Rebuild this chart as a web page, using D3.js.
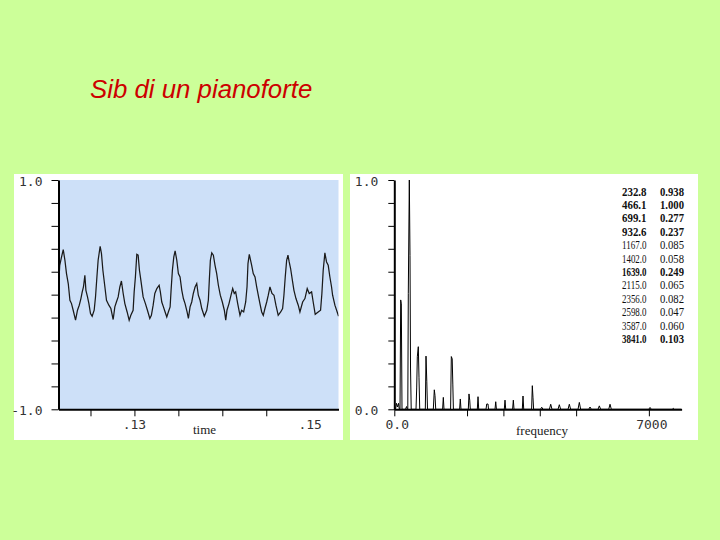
<!DOCTYPE html>
<html><head><meta charset="utf-8">
<script src="https://cdn.jsdelivr.net/npm/d3@7"></script>
<style>body{margin:0;background:#ccff99;}svg{display:block;}</style>
</head><body>
<svg id="chart" width="720" height="540"></svg>
<script>
// ---------- data ----------
const titleText = "Sib di un pianoforte";

// waveform: time (s) and amplitude
const waveTime = [0.12139,0.1215,0.12167,0.1219,0.12209,0.12227,0.12247,0.12266,0.12284,0.12303,0.1233,0.12352,0.12372,0.12391,0.12406,0.1242,0.12436,0.12448,0.12466,0.12482,0.125,0.12519,0.12542,0.12557,0.12573,0.12587,0.1261,0.12625,0.12641,0.12664,0.12682,0.12709,0.12732,0.12758,0.12777,0.12795,0.12815,0.12834,0.12852,0.12872,0.12891,0.12917,0.1294,0.12959,0.12985,0.12997,0.13011,0.13027,0.13042,0.13057,0.13073,0.13099,0.13125,0.13148,0.13175,0.13193,0.13213,0.13232,0.13255,0.13281,0.13295,0.13311,0.1333,0.13349,0.13368,0.13386,0.13406,0.13417,0.13432,0.13448,0.13463,0.13482,0.135,0.13519,0.13539,0.13557,0.13576,0.13599,0.13614,0.13633,0.13652,0.1367,0.1369,0.13709,0.13727,0.13747,0.13766,0.13795,0.13823,0.13841,0.13852,0.13864,0.1388,0.13898,0.13917,0.13936,0.13955,0.13977,0.14,0.14023,0.14039,0.14053,0.14076,0.14099,0.14118,0.14136,0.14152,0.14175,0.14201,0.1422,0.14243,0.14266,0.14281,0.14292,0.14307,0.14334,0.14352,0.14372,0.14391,0.14409,0.14428,0.14448,0.14466,0.14485,0.14505,0.14523,0.14542,0.14565,0.14588,0.1461,0.14636,0.14664,0.14686,0.14701,0.14716,0.14732,0.14747,0.14761,0.14777,0.148,0.14815,0.14838,0.14864,0.14883,0.14914,0.1494,0.14966,0.14989,0.15016,0.15034,0.15057,0.15091,0.15118,0.15133,0.15148,0.15167,0.15186,0.15205,0.15224,0.15243,0.15255,0.15281,0.15307,0.15323];
const waveAmp = [0.099,0.256,0.317,0.393,0.300,0.184,0.097,-0.049,-0.078,-0.136,-0.223,-0.136,-0.092,-0.034,0.024,0.067,0.169,0.038,-0.020,-0.078,-0.165,-0.188,-0.136,-0.020,0.154,0.300,0.422,0.358,0.213,0.067,-0.049,-0.092,-0.121,-0.217,-0.107,-0.064,-0.020,0.067,0.119,0.010,-0.078,-0.151,-0.223,-0.180,-0.136,0.024,0.154,0.352,0.344,0.213,0.126,-0.020,-0.078,-0.136,-0.208,-0.180,-0.092,0.010,0.053,0.082,0.024,-0.064,-0.107,-0.151,-0.195,-0.151,-0.107,0.038,0.213,0.329,0.381,0.300,0.184,0.154,0.038,-0.034,-0.078,-0.151,-0.208,-0.107,-0.064,0.010,0.067,0.097,-0.005,-0.049,-0.121,-0.188,-0.136,-0.049,0.126,0.300,0.364,0.344,0.256,0.184,0.082,-0.005,-0.064,-0.136,-0.223,-0.136,-0.078,-0.005,0.053,0.010,0.024,-0.078,-0.180,-0.136,-0.151,-0.064,0.067,0.271,0.352,0.256,0.184,0.154,0.067,-0.005,-0.078,-0.151,-0.180,-0.121,-0.064,-0.005,0.067,0.010,-0.005,-0.092,-0.180,-0.151,-0.121,-0.005,0.154,0.300,0.344,0.285,0.228,0.111,0.038,-0.034,-0.092,-0.151,-0.064,-0.034,0.053,0.010,0.024,-0.064,-0.171,-0.151,-0.136,0.010,0.213,0.364,0.285,0.256,0.154,0.067,-0.005,-0.092,-0.151,-0.188];

// spectrum: frequency (Hz) and relative magnitude
const specFreq = [0,33,60,88,116,138,157,176,193,212,308,336,358,371,385,413,432,446,465,597,616,633,660,679,699,853,872,894,913,1073,1100,1119,1139,1328,1348,1367,1548,1568,1592,1609,1625,1796,1815,1834,2035,2054,2074,2090,2283,2302,2321,2522,2541,2577,2591,2769,2789,2808,3025,3044,3064,3253,3273,3292,3520,3539,3559,3776,3795,3814,3831,4020,4054,4088,4265,4301,4337,4502,4538,4574,4777,4813,4849,5052,5088,5124,5346,5382,5418,5602,5638,5674,5896,5932,5968,6996,7032,7068,7640,7673,7706,7884];
const specMag  = [0,0,0.026,0.01,0.026,0,0,0.477,0.46,0,0,0.012,0,0,0.506,1.0,0.67,0.18,0,0,0.093,0.229,0.273,0.14,0,0,0.232,0.12,0,0,0.085,0.06,0,0,0.052,0,0,0.23,0.22,0.11,0,0,0.045,0,0,0.067,0.04,0,0,0.055,0,0,0.023,0.023,0,0,0.033,0,0,0.04,0,0,0.04,0,0,0.058,0,0,0.103,0.05,0,0,0.009,0,0,0.022,0,0,0.02,0,0,0.022,0,0,0.03,0,0,0.01,0,0,0.015,0,0,0.022,0,0,0.008,0,0,0.004,0,0];

// peak table
const peakFreqLabels = ["232.8","466.1","699.1","932.6","1167.0","1402.0","1639.0","2115.0","2356.0","2598.0","3587.0","3841.0"];
const peakAmpLabels  = ["0.938","1.000","0.277","0.237","0.085","0.058","0.249","0.065","0.082","0.047","0.060","0.103"];
const peakBold       = [true,true,true,true,false,false,true,false,false,false,false,true];

// axes
const waveDomain = [0.12136, 0.15322];
const waveYTicks = [-1,-0.8,-0.6,-0.4,-0.2,0,0.2,0.4,0.6,0.8,1];
const waveYLabels = {"1": "1.0", "-1": "-1.0"};
const waveXTicks = [0.125,0.13,0.135,0.14,0.145];
const waveXLabelValues = [0.13, 0.15];
const waveXLabelText = [".13", ".15"];
const specDomain = [0, 7900];
const specYTicks = [0,0.1,0.2,0.3,0.4,0.5,0.6,0.7,0.8,0.9,1];
const specYLabels = {"1": "1.0", "0": "0.0"};
const specXTicks = [0,2000,3000,4000,5000,7000];
const specXLabelValues = [0, 7000];
const specXLabelText = ["0.0", "7000"];

// ---------- drawing ----------
const svg = d3.select("#chart");
svg.append("rect").attr("width",720).attr("height",540).attr("fill","#ccff99");

svg.append("text").attr("x",90).attr("y",98)
  .attr("font-family","'Liberation Sans', Arial, sans-serif").attr("font-style","italic")
  .attr("font-size",25.8).attr("fill","#cc0000").text(titleText);

const monoFont = "'DejaVu Sans Mono', monospace";
const serifFont = "'Liberation Serif', 'Times New Roman', serif";

function styleAxis(g){
  g.select(".domain").attr("stroke","#000").attr("stroke-width",2);
  g.selectAll(".tick line").attr("stroke","#000").attr("stroke-width",1);
  g.selectAll(".tick text").remove();
}

// left panel
const L = {bx:14, by:174, bw:329, bh:266, x0:58.5, x1:338.5, y0:180, y1:409.3};
svg.append("rect").attr("x",L.bx).attr("y",L.by).attr("width",L.bw).attr("height",L.bh).attr("fill","#ffffff");
svg.append("rect").attr("x",L.x0).attr("y",L.y0).attr("width",L.x1-L.x0).attr("height",L.y1-L.y0).attr("fill","#cde0f8");
const xw = d3.scaleLinear().domain(waveDomain).range([L.x0,L.x1]);
const yw = d3.scaleLinear().domain([-1,1]).range([L.y1,L.y0]);
svg.append("defs").append("clipPath").attr("id","clipL").append("rect")
  .attr("x",L.x0).attr("y",L.y0).attr("width",L.x1-L.x0).attr("height",L.y1-L.y0);
const waveData = waveTime.map((t,i)=>[t,waveAmp[i]]);
svg.append("path").datum(waveData).attr("clip-path","url(#clipL)")
  .attr("fill","none").attr("stroke","#1a1a1a").attr("stroke-width",1.25)
  .attr("d", d3.line().x(d=>xw(d[0])).y(d=>yw(d[1])));
svg.append("g").attr("transform",`translate(${L.x0},0)`)
  .call(d3.axisLeft(yw).tickValues(waveYTicks).tickSize(7).tickSizeOuter(0)).call(styleAxis);
svg.append("g").attr("transform",`translate(0,${L.y1})`)
  .call(d3.axisBottom(xw).tickValues(waveXTicks).tickSize(7).tickSizeOuter(0)).call(styleAxis);
waveYTicks.filter(v=>waveYLabels[String(v)]).forEach(v=>{
  svg.append("text").attr("x",L.x0-16).attr("y",yw(v)+6).attr("text-anchor","end")
    .attr("font-family",monoFont).attr("font-size",13).attr("fill","#333").text(waveYLabels[String(v)]);
});
waveXLabelValues.forEach((v,i)=>{
  svg.append("text").attr("x",xw(v)).attr("y",429).attr("text-anchor","middle")
    .attr("font-family",monoFont).attr("font-size",13).attr("fill","#333").text(waveXLabelText[i]);
});
svg.append("text").attr("x",204.5).attr("y",434).attr("text-anchor","middle")
  .attr("font-family",serifFont).attr("font-size",13).attr("fill","#222").text("time");

// right panel
const R = {bx:350, by:174, bw:348, bh:266, x0:394.3, x1:681.6, y0:180, y1:409.3};
svg.append("rect").attr("x",R.bx).attr("y",R.by).attr("width",R.bw).attr("height",R.bh).attr("fill","#ffffff");
const xs = d3.scaleLinear().domain(specDomain).range([R.x0,R.x1]);
const ys = d3.scaleLinear().domain([0,1]).range([R.y1,R.y0]);
const specData = specFreq.map((f,i)=>[f,specMag[i]]);
svg.append("path").datum(specData)
  .attr("fill","none").attr("stroke","#000").attr("stroke-width",1)
  .attr("d", d3.line().x(d=>xs(d[0])).y(d=>ys(d[1])));
svg.append("g").attr("transform",`translate(${R.x0},0)`)
  .call(d3.axisLeft(ys).tickValues(specYTicks).tickSize(6).tickSizeOuter(0)).call(styleAxis);
svg.append("g").attr("transform",`translate(0,${R.y1})`)
  .call(d3.axisBottom(xs).tickValues(specXTicks).tickSize(7).tickSizeOuter(0)).call(styleAxis);
specYTicks.filter(v=>specYLabels[String(v)]).forEach(v=>{
  svg.append("text").attr("x",R.x0-16).attr("y",ys(v)+6).attr("text-anchor","end")
    .attr("font-family",monoFont).attr("font-size",13).attr("fill","#333").text(specYLabels[String(v)]);
});
specXLabelValues.forEach((v,i)=>{
  svg.append("text").attr("x",xs(v)+3).attr("y",429).attr("text-anchor","middle")
    .attr("font-family",monoFont).attr("font-size",13).attr("fill","#333").text(specXLabelText[i]);
});
svg.append("text").attr("x",542).attr("y",435).attr("text-anchor","middle")
  .attr("font-family",serifFont).attr("font-size",13).attr("fill","#222").text("frequency");

// peak table
peakFreqLabels.forEach((f,i)=>{
  const yb = 195.5 + i*13.4;
  svg.append("text").attr("x",622).attr("y",yb)
    .attr("font-family",serifFont).attr("font-size",11.5)
    .attr("font-weight",peakBold[i]?"bold":"normal")
    .attr("textLength",24.5).attr("lengthAdjust","spacingAndGlyphs")
    .attr("fill","#111").text(f);
  svg.append("text").attr("x",660).attr("y",yb)
    .attr("font-family",serifFont).attr("font-size",11.5)
    .attr("font-weight",peakBold[i]?"bold":"normal")
    .attr("textLength",24).attr("lengthAdjust","spacingAndGlyphs")
    .attr("fill","#111").text(peakAmpLabels[i]);
});
</script>
</body></html>
